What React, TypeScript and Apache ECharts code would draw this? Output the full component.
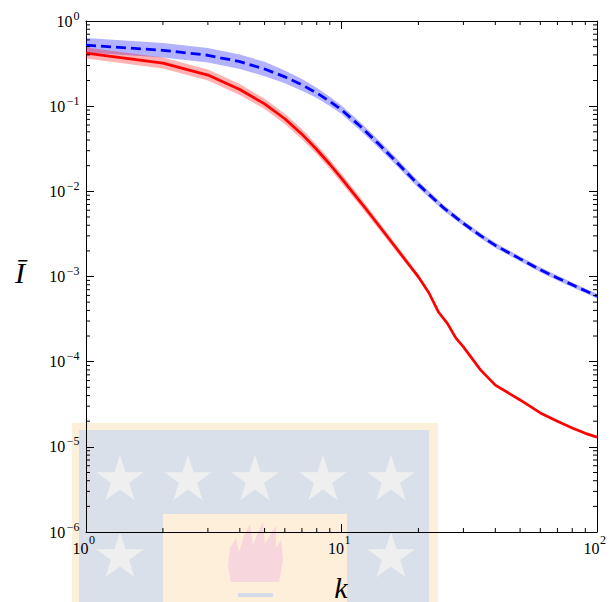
import React, { useEffect, useRef } from "react";
import * as echarts from "echarts";

// ---- data ----
const redK = [1, 2, 3, 4, 5, 6, 7, 8, 9, 10, 12, 14, 16, 18, 20, 22, 24, 26, 28, 30, 35, 40, 50, 60, 70, 80, 90, 100];
const redMean = [0.42, 0.3206, 0.2317, 0.157, 0.1062, 0.0711, 0.0469, 0.031, 0.0208, 0.01422, 0.00719, 0.00397, 0.00236, 0.00149, 0.00099, 0.00064, 0.00038, 0.00028, 0.00019, 0.000149, 0.00008, 0.000053, 0.0000355, 0.000025, 0.00002, 0.0000166, 0.0000144, 0.000013];

const redBandK = [1, 2, 3, 4, 5, 6, 7, 8, 9, 10, 12, 14, 16, 18, 20, 22, 24, 26, 28, 30];
const redUpper = [0.4878, 0.3723, 0.2691, 0.1823, 0.1219, 0.08164, 0.05385, 0.03519, 0.02361, 0.01614, 0.008067, 0.004404, 0.002588, 0.001615, 0.001061, 0.000673, 0.000393, 0.000285, 0.000192, 0.00015];
const redLower = [0.3616, 0.276, 0.1995, 0.1352, 0.0925, 0.06192, 0.04085, 0.02731, 0.01833, 0.01253, 0.006408, 0.003579, 0.002152, 0.001375, 0.000924, 0.000608, 0.000367, 0.000275, 0.000188, 0.000148];

const blueK = [1, 2, 3, 4, 5, 6, 7, 8, 9, 10, 12, 14, 16, 18, 20, 25, 30, 35, 40, 50, 60, 70, 80, 90, 100];
const blueMean = [0.52, 0.453, 0.396, 0.333, 0.273, 0.221, 0.178, 0.143, 0.114, 0.0906, 0.0561, 0.0359, 0.0239, 0.0166, 0.012, 0.00646, 0.0042, 0.00302, 0.00232, 0.00161, 0.0012, 0.00096, 0.0008, 0.00068, 0.00059];
const blueUpper = [0.6324, 0.551, 0.4816, 0.405, 0.332, 0.2627, 0.2091, 0.1642, 0.1294, 0.1017, 0.06266, 0.03991, 0.02645, 0.01828, 0.01316, 0.007, 0.0045, 0.003236, 0.002486, 0.001717, 0.00128, 0.001024, 0.000853, 0.000725, 0.000629];
const blueLower = [0.4276, 0.3725, 0.3256, 0.2738, 0.2245, 0.186, 0.1515, 0.1245, 0.1004, 0.0807, 0.05023, 0.03229, 0.0216, 0.01507, 0.01094, 0.00596, 0.00392, 0.002818, 0.002165, 0.001509, 0.001125, 0.0009, 0.00075, 0.000638, 0.000553];

const xRange = [1, 100];
const yRange = [1e-6, 1];
const xTickValues = [1, 10, 100];
const yTickValues = [1e-6, 1e-5, 1e-4, 1e-3, 1e-2, 1e-1, 1];
const minorMultipliers = [2, 3, 4, 5, 6, 7, 8, 9];
const xDecades = [1, 10];
const yDecades = [1e-6, 1e-5, 1e-4, 1e-3, 1e-2, 1e-1];

const FONT = "'Liberation Serif', 'DejaVu Serif', serif";
const BASE_SIZE = 16;
const SUP_SIZE = 12;

function expText(v: number) {
  const e = Math.round(Math.log10(v));
  return e < 0 ? "\u2212" + Math.abs(e) : String(e);
}
function supWidth(s: string) {
  let w = 0;
  for (const ch of s) w += ch === "\u2212" ? SUP_SIZE * 0.6 : SUP_SIZE * 0.5;
  return w;
}

function starPoints(cx: number, cy: number, R: number) {
  const pts: number[][] = [];
  const r = R * 0.382;
  for (let i = 0; i < 10; i++) {
    const a = -Math.PI / 2 + (i * Math.PI) / 5;
    const rr = i % 2 === 0 ? R : r;
    pts.push([cx + rr * Math.cos(a), cy + rr * Math.sin(a)]);
  }
  return pts;
}

const starCenters = [
  [120, 480], [188, 480], [255, 480], [323, 480], [391, 480],
  [120, 557], [391, 557],
];

export default function App() {
  const ref = useRef<HTMLDivElement>(null);
  useEffect(() => {
    document.body.style.margin = "0";
    if (!ref.current) return;
    const chart = echarts.init(ref.current, undefined, { renderer: "svg" });

    const minorK: number[] = [];
    xDecades.forEach((d) => minorMultipliers.forEach((m) => minorK.push(m * d)));
    const minorI: number[] = [];
    yDecades.forEach((d) => minorMultipliers.forEach((m) => minorI.push(m * d)));

    const band = (ks: number[], lo: number[], hi: number[], color: string) => ({
      type: "custom",
      coordinateSystem: "cartesian2d",
      silent: true,
      z: 1,
      data: [[ks[0], hi[0]]],
      renderItem: (_p: any, api: any) => {
        const pts: number[][] = [];
        for (let i = 0; i < ks.length; i++) pts.push(api.coord([ks[i], hi[i]]));
        for (let i = ks.length - 1; i >= 0; i--) pts.push(api.coord([ks[i], lo[i]]));
        return { type: "polygon", shape: { points: pts }, style: { fill: color } };
      },
    });

    const tickStyle = { stroke: "#000", lineWidth: 1 };
    const gtext = (x: number, y: number, text: string, font: string, align: string) => ({
      type: "text",
      z: 10,
      x,
      y,
      style: { text, font, fill: "#000", textAlign: align, textVerticalAlign: "middle" },
    });

    const watermark = {
      type: "group",
      z: -10,
      silent: true,
      children: [
        { type: "rect", z: -10, shape: { x: 72, y: 423, width: 366, height: 179 }, style: { fill: "#fdf0da" } },
        { type: "rect", z: -10, shape: { x: 79, y: 430, width: 350, height: 172 }, style: { fill: "#d9e0ea" } },
        ...starCenters.map(([cx, cy]) => ({
          type: "polygon",
          z: -10,
          shape: { points: starPoints(cx, cy, 25) },
          style: { fill: "#efefef" },
        })),
        { type: "rect", z: -10, shape: { x: 163, y: 514, width: 184, height: 88 }, style: { fill: "#fdefd9" } },
        {
          type: "polygon",
          z: -10,
          shape: {
            points: [
              [231, 582], [228, 566], [230, 548], [236, 538], [239, 552], [244, 536], [250, 524],
              [253, 545], [258, 532], [263, 522], [265, 544], [270, 535], [276, 526], [276, 548],
              [281, 540], [283, 560], [279, 582],
            ],
          },
          style: { fill: "#f7d6de" },
        },
        { type: "rect", z: -10, shape: { x: 238, y: 593, width: 35, height: 4 }, style: { fill: "#d3dce8" } },
      ],
    };

    const axisCommon = {
      type: "log",
      logBase: 10,
      splitLine: { show: false },
      axisLabel: { show: false },
      axisLine: { show: true, lineStyle: { color: "#000", width: 1 } },
      axisTick: { show: true, inside: true, length: 8, lineStyle: { color: "#000", width: 1 } },
    };

    chart.setOption({
      animation: false,
      grid: { left: 86, top: 21, width: 511, height: 511, containLabel: false },
      xAxis: [
        { ...axisCommon, position: "bottom", min: xRange[0], max: xRange[1] },
        { ...axisCommon, position: "top", min: xRange[0], max: xRange[1] },
      ],
      yAxis: [
        { ...axisCommon, position: "left", min: yRange[0], max: yRange[1] },
        { ...axisCommon, position: "right", min: yRange[0], max: yRange[1] },
      ],
      series: [
        band(blueK, blueLower, blueUpper, "rgba(0,0,255,0.3)"),
        band(redBandK, redLower, redUpper, "rgba(255,0,0,0.3)"),
        {
          type: "line",
          z: 3,
          data: redK.map((k, i) => [k, redMean[i]]),
          showSymbol: false,
          lineStyle: { color: "#ff0000", width: 2.7 },
        },
        {
          type: "line",
          z: 3,
          data: blueK.map((k, i) => [k, blueMean[i]]),
          showSymbol: false,
          lineStyle: { color: "#0000ff", width: 2.8, type: [10, 5] },
        },
        {
          type: "custom",
          coordinateSystem: "cartesian2d",
          silent: true,
          z: 4,
          data: minorK.map((k) => [k, yRange[0]]),
          renderItem: (_p: any, api: any) => {
            const k = api.value(0);
            const b = api.coord([k, yRange[0]]);
            const t = api.coord([k, yRange[1]]);
            return {
              type: "group",
              children: [
                { type: "line", shape: { x1: b[0], y1: b[1], x2: b[0], y2: b[1] - 4 }, style: tickStyle },
                { type: "line", shape: { x1: t[0], y1: t[1], x2: t[0], y2: t[1] + 4 }, style: tickStyle },
              ],
            };
          },
        },
        {
          type: "custom",
          coordinateSystem: "cartesian2d",
          silent: true,
          z: 4,
          data: minorI.map((v) => [xRange[0], v]),
          renderItem: (_p: any, api: any) => {
            const v = api.value(1);
            const l = api.coord([xRange[0], v]);
            const r = api.coord([xRange[1], v]);
            return {
              type: "group",
              children: [
                { type: "line", shape: { x1: l[0], y1: l[1], x2: l[0] + 4, y2: l[1] }, style: tickStyle },
                { type: "line", shape: { x1: r[0], y1: r[1], x2: r[0] - 4, y2: r[1] }, style: tickStyle },
              ],
            };
          },
        },
      ],
    });

    // tick labels positioned through the chart's own scales
    const baseFont = BASE_SIZE + "px " + FONT;
    const supFont = SUP_SIZE + "px " + FONT;
    const labels: any[] = [];
    xTickValues.forEach((k) => {
      const c = chart.convertToPixel({ xAxisIndex: 0, yAxisIndex: 0 }, [k, yRange[0]]) as number[];
      const left = c[0] - 13.5;
      labels.push(gtext(left, c[1] + 16.5, "10", baseFont, "left"));
      labels.push(gtext(left + BASE_SIZE + 0.5, c[1] + 8, expText(k), supFont, "left"));
    });
    yTickValues.forEach((v) => {
      const c = chart.convertToPixel({ xAxisIndex: 0, yAxisIndex: 0 }, [xRange[0], v]) as number[];
      const e = expText(v);
      const right = c[0] - 6.5;
      labels.push(gtext(right, c[1] - 5.5, e, supFont, "right"));
      labels.push(gtext(right - supWidth(e) - 1, c[1], "10", baseFont, "right"));
    });

    chart.setOption({
      graphic: [
        watermark,
        gtext(20, 272, "\u012A", "italic 30px " + FONT, "center"),
        gtext(341, 587, "k", "italic 30px " + FONT, "center"),
        ...labels,
      ],
    });
    return () => chart.dispose();
  }, []);
  return <div ref={ref} style={{ width: 611, height: 602 }} />;
}
